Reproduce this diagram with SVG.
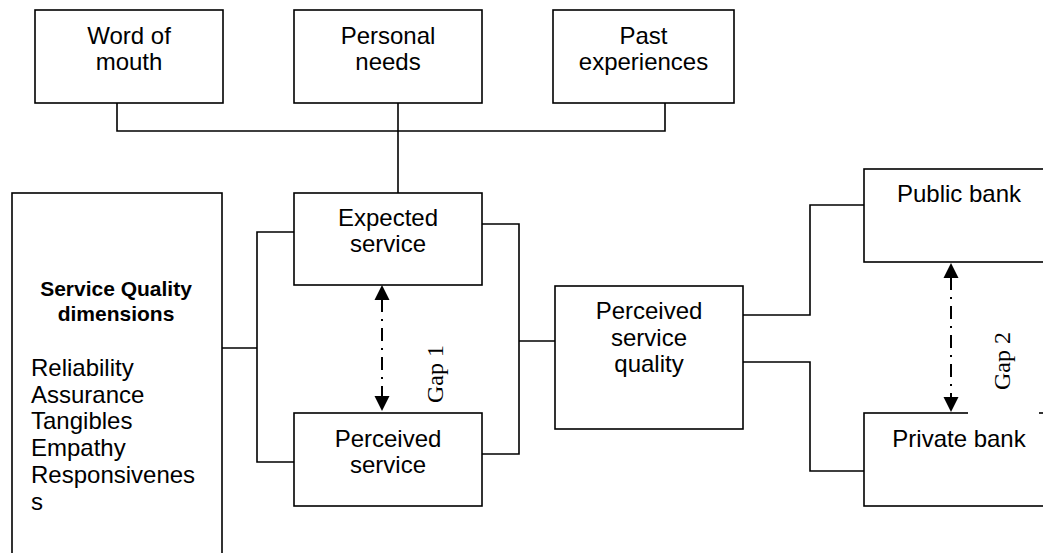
<svg xmlns="http://www.w3.org/2000/svg" width="1043" height="553" viewBox="0 0 1043 553">
<style>
.box{fill:#fff;stroke:#000;stroke-width:1.6}
.t{font-family:"Liberation Sans",Arial,sans-serif;font-size:24px;fill:#000;text-anchor:middle}
.tl{font-family:"Liberation Sans",Arial,sans-serif;font-size:24px;fill:#000}
.tb{font-family:"Liberation Sans",Arial,sans-serif;font-size:21px;font-weight:bold;fill:#000;text-anchor:middle}
.g{font-family:"Liberation Serif","Times New Roman",serif;font-size:24px;fill:#000;text-anchor:middle}
.c{fill:none;stroke:#000;stroke-width:1.6}
.gap{fill:none;stroke:#000;stroke-width:2;stroke-dasharray:13 7 2 7}
</style>
<defs>
<marker id="ah" markerUnits="userSpaceOnUse" markerWidth="16" markerHeight="16" viewBox="0 0 16 16" refX="15" refY="8" orient="auto-start-reverse">
<path d="M0,0.5 L15,8 L0,15.5 Z" fill="#000"/>
</marker>
</defs>

<g id="connectors">
<path class="c" d="M117,103 V131 H665 V103"/>
<path class="c" d="M398,103 V193"/>
<path class="c" d="M222,348 H257"/>
<path class="c" d="M294,232 H257 V462 H294"/>
<path class="c" d="M482,224 H519 V454 H482"/>
<path class="c" d="M519,341 H555"/>
<path class="c" d="M743,315 H810 V205 H864"/>
<path class="c" d="M743,362 H810 V471 H864"/>
<path class="gap" d="M382,299 V397" />
<path class="c" d="M382,285 V411" stroke-opacity="0" marker-start="url(#ah)" marker-end="url(#ah)"/>
<path class="gap" d="M951,277 V398" />
<path class="c" d="M951,263 V412" stroke-opacity="0" marker-start="url(#ah)" marker-end="url(#ah)"/>
</g>

<g id="word-of-mouth">
<rect class="box" x="35" y="10" width="188" height="93"/>
<text class="t" x="129" y="44">Word of</text>
<text class="t" x="129" y="70">mouth</text>
</g>
<g id="personal-needs">
<rect class="box" x="294" y="10" width="188" height="93"/>
<text class="t" x="388" y="44">Personal</text>
<text class="t" x="388" y="70">needs</text>
</g>
<g id="past-experiences">
<rect class="box" x="553" y="10" width="181" height="93"/>
<text class="t" x="643.5" y="44">Past</text>
<text class="t" x="643.5" y="70">experiences</text>
</g>

<g id="service-quality-dimensions">
<rect class="box" x="12" y="193" width="210" height="380"/>
<text class="tb" x="116" y="296">Service Quality</text>
<text class="tb" x="116" y="321">dimensions</text>
<text class="tl" x="31" y="376">Reliability</text>
<text class="tl" x="31" y="403">Assurance</text>
<text class="tl" x="31" y="429">Tangibles</text>
<text class="tl" x="31" y="456">Empathy</text>
<text class="tl" x="31" y="483">Responsivenes</text>
<text class="tl" x="31" y="510">s</text>
</g>

<g id="expected-service">
<rect class="box" x="294" y="193" width="188" height="92"/>
<text class="t" x="388" y="226">Expected</text>
<text class="t" x="388" y="252">service</text>
</g>
<g id="perceived-service">
<rect class="box" x="294" y="413" width="188" height="93"/>
<text class="t" x="388" y="447">Perceived</text>
<text class="t" x="388" y="473">service</text>
</g>

<g id="perceived-service-quality">
<rect class="box" x="555" y="286" width="188" height="143"/>
<text class="t" x="649" y="319">Perceived</text>
<text class="t" x="649" y="346">service</text>
<text class="t" x="649" y="372">quality</text>
</g>

<g id="public-bank">
<rect class="box" x="864" y="169" width="190" height="93"/>
<text class="t" x="959" y="202">Public bank</text>
</g>
<g id="private-bank">
<rect class="box" x="864" y="413" width="190" height="93"/>
<text class="t" x="959" y="447">Private bank</text>
</g>

<g id="gap1-label">
<text class="g" transform="translate(443,374) rotate(-90)">Gap 1</text>
</g>
<g id="gap2-label">
<rect x="968" y="300" width="71" height="114.5" fill="#fff"/>
<text class="g" transform="translate(1010,361) rotate(-90)">Gap 2</text>
</g>
</svg>
